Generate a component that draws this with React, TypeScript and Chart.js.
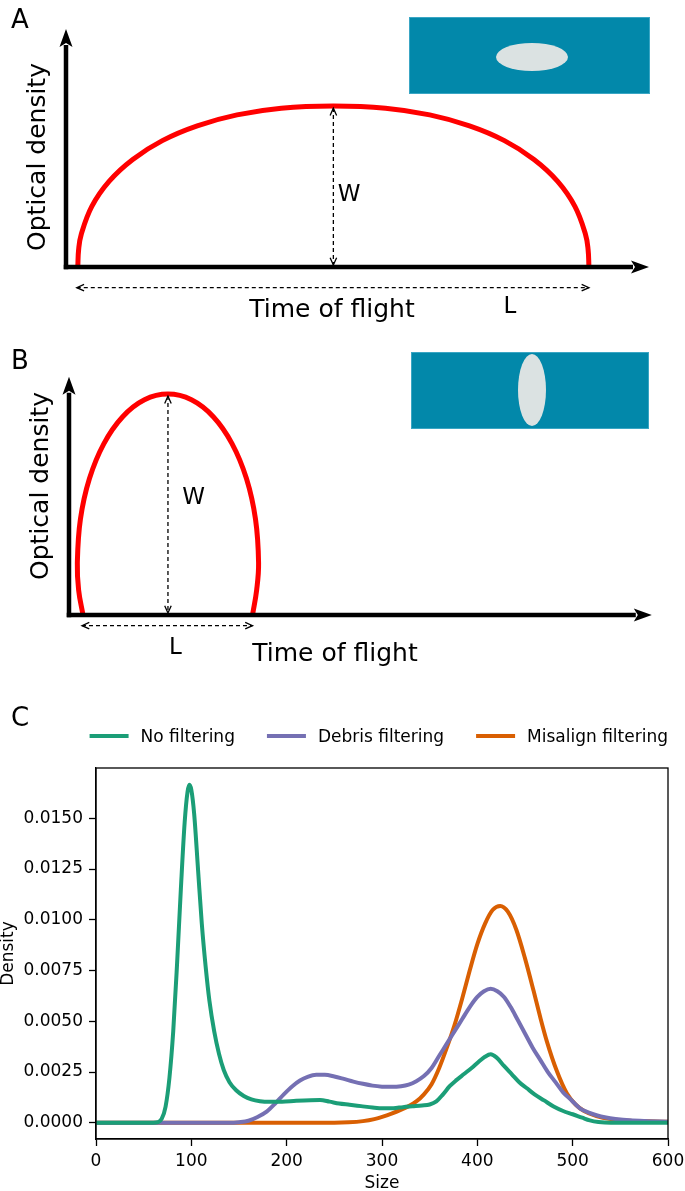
import React, { useEffect, useRef } from "react";
import { Chart, registerables } from "chart.js";

Chart.register(...registerables);

const FONT = "'DejaVu Sans', 'Liberation Sans', sans-serif";

// ---------- Panel A / B schematic data (time vs optical density, arbitrary units) ----------
const timeA = [2.02, 2.17, 2.62, 4.43, 7.39, 11.45, 16.52, 22.51, 29.33, 36.92, 45.86, 54.8, 62.39, 69.21, 75.2, 80.27, 84.33, 87.29, 89.1, 89.55, 89.7];
const odA = [0, 7.4, 13.8, 25.5, 36.0, 45.2, 53.1, 59.3, 63.9, 66.7, 67.6, 66.7, 63.9, 59.3, 53.1, 45.2, 36.0, 25.5, 13.8, 7.4, 0];

const timeB = [2.4, 1.65, 1.43, 1.96, 3.51, 5.99, 9.21, 12.95, 16.98, 21.01, 24.76, 27.97, 30.45, 32.0, 32.53, 32.2, 31.49];
const odB = [0, 10.5, 21.8, 40.2, 57.25, 71.93, 83.2, 90.3, 92.7, 90.3, 83.2, 71.93, 57.25, 40.2, 21.8, 10.5, 0];

// ---------- Panel C data ----------
const seriesLabels = ["No filtering", "Debris filtering", "Misalign filtering"];
const seriesColors = ["#1b9e77", "#7570b3", "#d95f02"];

const sizeNoFilter = [0, 60, 65, 69, 73, 77, 81, 85, 89, 93, 96, 98, 100, 103, 107, 111, 115, 119, 124, 129, 134, 140, 147, 155, 163, 172, 182, 195, 210, 225, 235, 245, 255, 266, 278, 290, 301, 312, 322, 332, 342, 350, 357, 364, 371, 378, 386, 394, 402, 408, 414, 420, 428, 436, 444, 452, 460, 470, 480, 490, 500, 510, 518, 527, 540, 600];
const densNoFilter = [0, 0, 0.00003, 0.0002, 0.0008, 0.0022, 0.0045, 0.0078, 0.0115, 0.0148, 0.0163, 0.01665, 0.0164, 0.0152, 0.0125, 0.0098, 0.0077, 0.006, 0.0045, 0.0034, 0.0026, 0.002, 0.0016, 0.00132, 0.00115, 0.00106, 0.00103, 0.00104, 0.00108, 0.00111, 0.00112, 0.00104, 0.00095, 0.00089, 0.00082, 0.00075, 0.00071, 0.00072, 0.00077, 0.00081, 0.00085, 0.0009, 0.00105, 0.0014, 0.0018, 0.0021, 0.0024, 0.0027, 0.00303, 0.00325, 0.00337, 0.00322, 0.0028, 0.0024, 0.002, 0.0017, 0.0014, 0.0011, 0.0008, 0.00058, 0.00042, 0.00025, 0.00012, 0.00004, 0, 0];

const sizeDebris = [0, 140, 150, 160, 170, 179, 188, 197, 206, 214, 222, 231, 240, 250, 260, 270, 280, 290, 300, 310, 320, 328, 336, 344, 352, 360, 368, 376, 384, 392, 400, 407, 414, 421, 428, 435, 442, 450, 458, 466, 474, 482, 490, 499, 508, 517, 525, 535, 545, 560, 580, 600];
const densDebris = [0, 0, 0.00003, 0.0001, 0.0003, 0.00055, 0.00095, 0.0014, 0.0018, 0.00208, 0.00226, 0.00236, 0.00236, 0.00228, 0.00216, 0.00203, 0.00192, 0.00183, 0.00178, 0.00177, 0.0018, 0.00188, 0.00205, 0.0023, 0.0027, 0.0033, 0.0039, 0.0045, 0.0051, 0.0057, 0.0062, 0.00648, 0.0066, 0.00648, 0.0062, 0.0057, 0.0051, 0.0044, 0.0037, 0.0031, 0.0025, 0.002, 0.0015, 0.0011, 0.0007, 0.0005, 0.00037, 0.00026, 0.00019, 0.00012, 0.00008, 0.00005];

const sizeMisalign = [0, 250, 265, 280, 292, 301, 310, 319, 328, 336, 344, 352, 360, 368, 376, 384, 392, 400, 408, 416, 424, 432, 441, 450, 459, 466, 473, 483, 494, 503, 512, 525, 540, 560, 580, 600];
const densMisalign = [0, 0, 0.00002, 0.00008, 0.00018, 0.0003, 0.00045, 0.00062, 0.00082, 0.00105, 0.0014, 0.0019, 0.0027, 0.0037, 0.0048, 0.0061, 0.0075, 0.0088, 0.0098, 0.01048, 0.01068, 0.0104, 0.0095, 0.0081, 0.0065, 0.0052, 0.004, 0.0026, 0.00144, 0.0009, 0.00058, 0.00033, 0.00018, 0.0001, 0.00007, 0.00005];

const xTickValues = [0, 100, 200, 300, 400, 500, 600];
const xTickLabels = ["0", "100", "200", "300", "400", "500", "600"];
const yTickValues = [0, 0.0025, 0.005, 0.0075, 0.01, 0.0125, 0.015];
const yTickLabels = ["0.0000", "0.0025", "0.0050", "0.0075", "0.0100", "0.0125", "0.0150"];

// ---------- helpers ----------
type TextItem = { text: string; x: number; y: number; size: number; rotate?: boolean };

function drawText(ctx: CanvasRenderingContext2D, t: TextItem) {
  ctx.save();
  ctx.font = `${t.size}px ${FONT}`;
  ctx.fillStyle = "#000";
  ctx.textAlign = "center";
  ctx.textBaseline = "alphabetic";
  const off = 0.3645 * t.size; // cap-centre to baseline
  if (t.rotate) {
    ctx.translate(t.x, t.y);
    ctx.rotate(-Math.PI / 2);
    ctx.fillText(t.text, 0, off);
  } else {
    ctx.fillText(t.text, t.x, t.y + off);
  }
  ctx.restore();
}

function dashedArrow(ctx: CanvasRenderingContext2D, x1: number, y1: number, x2: number, y2: number) {
  ctx.save();
  ctx.strokeStyle = "#000";
  ctx.lineWidth = 1.3;
  ctx.setLineDash([4, 3]);
  ctx.beginPath();
  ctx.moveTo(x1, y1);
  ctx.lineTo(x2, y2);
  ctx.stroke();
  ctx.setLineDash([]);
  const ang = Math.atan2(y2 - y1, x2 - x1);
  const head = 8;
  const spread = 0.42;
  const heads: [number, number, number][] = [
    [x2, y2, ang],
    [x1, y1, ang + Math.PI],
  ];
  for (const [hx, hy, a] of heads) {
    ctx.beginPath();
    ctx.moveTo(hx - head * Math.cos(a - spread), hy - head * Math.sin(a - spread));
    ctx.lineTo(hx, hy);
    ctx.lineTo(hx - head * Math.cos(a + spread), hy - head * Math.sin(a + spread));
    ctx.stroke();
  }
  ctx.restore();
}

const schematicPlugin = {
  id: "schematic",
  afterDatasetsDraw(chart: any, _args: any, opts: any) {
    const { ctx, chartArea: ca } = chart;
    const xs = chart.scales.x;
    const ys = chart.scales.y;
    const aw = 4.5;
    ctx.save();
    ctx.strokeStyle = "#000";
    ctx.fillStyle = "#000";
    ctx.lineWidth = aw;
    const hl = 18;
    const hw = 6.5;
    // y axis
    ctx.beginPath();
    ctx.moveTo(ca.left, ca.bottom + aw / 2);
    ctx.lineTo(ca.left, ca.top + hl - 2);
    ctx.stroke();
    ctx.beginPath();
    ctx.moveTo(ca.left, ca.top);
    ctx.lineTo(ca.left - hw, ca.top + hl);
    ctx.lineTo(ca.left, ca.top + hl - 4);
    ctx.lineTo(ca.left + hw, ca.top + hl);
    ctx.closePath();
    ctx.fill();
    // x axis
    ctx.beginPath();
    ctx.moveTo(ca.left - aw / 2, ca.bottom);
    ctx.lineTo(ca.right - hl + 2, ca.bottom);
    ctx.stroke();
    ctx.beginPath();
    ctx.moveTo(ca.right, ca.bottom);
    ctx.lineTo(ca.right - hl, ca.bottom - hw);
    ctx.lineTo(ca.right - hl + 4, ca.bottom);
    ctx.lineTo(ca.right - hl, ca.bottom + hw);
    ctx.closePath();
    ctx.fill();
    ctx.restore();

    // W and L arrows from the curve
    const data = chart.data.datasets[0].data as { x: number; y: number }[];
    let peak = data[0];
    for (const p of data) if (p.y > peak.y) peak = p;
    const px = xs.getPixelForValue(peak.x);
    dashedArrow(ctx, px, ys.getPixelForValue(peak.y) + 2, px, ys.getPixelForValue(0) - 2);
    const first = data[0];
    const last = data[data.length - 1];
    const ly = ca.bottom + opts.lOffset;
    dashedArrow(ctx, xs.getPixelForValue(first.x) - 1, ly, xs.getPixelForValue(last.x), ly);

    for (const t of opts.texts as TextItem[]) drawText(ctx, t);
  },
};

const framePlugin = {
  id: "frame",
  afterDraw(chart: any, _args: any, opts: any) {
    const { ctx, chartArea: ca } = chart;
    ctx.save();
    ctx.strokeStyle = "#000";
    ctx.lineWidth = 1.3;
    ctx.strokeRect(ca.left, ca.top, ca.right - ca.left, ca.bottom - ca.top);

    // legend (single row, right aligned to the plot frame)
    ctx.font = `${opts.fontSize}px ${FONT}`;
    const items = chart.data.datasets.map((ds: any) => ({
      label: ds.label as string,
      color: ds.borderColor as string,
      w: ctx.measureText(ds.label).width,
    }));
    const total =
      items.reduce((s: number, it: any) => s + opts.sample + opts.gap + it.w, 0) +
      opts.itemGap * (items.length - 1);
    let x = ca.right - total;
    for (const it of items) {
      ctx.strokeStyle = it.color;
      ctx.lineWidth = 4;
      ctx.beginPath();
      ctx.moveTo(x, opts.y);
      ctx.lineTo(x + opts.sample, opts.y);
      ctx.stroke();
      ctx.fillStyle = "#000";
      ctx.textAlign = "left";
      ctx.textBaseline = "alphabetic";
      ctx.fillText(it.label, x + opts.sample + opts.gap, opts.y + 0.3645 * opts.fontSize);
      x += opts.sample + opts.gap + it.w + opts.itemGap;
    }
    ctx.restore();
    for (const t of opts.texts as TextItem[]) drawText(ctx, t);
  },
};

function toXY(xs: number[], ys: number[]) {
  return xs.map((x, i) => ({ x, y: ys[i] }));
}

function schematicConfig(time: number[], od: number[], padding: any, lOffset: number, texts: TextItem[]): any {
  return {
    type: "scatter",
    data: {
      datasets: [
        {
          data: toXY(time, od),
          showLine: true,
          borderColor: "#ff0000",
          borderWidth: 5,
          pointRadius: 0,
          tension: 0.4,
          fill: false,
          clip: false,
        },
      ],
    },
    options: {
      animation: false,
      responsive: false,
      devicePixelRatio: 1,
      events: [],
      layout: { padding },
      plugins: { legend: { display: false }, tooltip: { enabled: false }, schematic: { lOffset, texts } },
      scales: {
        x: { type: "linear", min: 0, max: 100, display: false },
        y: { type: "linear", min: 0, max: 100, display: false },
      },
    },
    plugins: [schematicPlugin],
  };
}

function densityConfig(): any {
  const tickFont = { family: FONT, size: 17 };
  const sizes = [sizeNoFilter, sizeDebris, sizeMisalign];
  const dens = [densNoFilter, densDebris, densMisalign];
  return {
    type: "scatter",
    data: {
      datasets: seriesLabels.map((label, i) => ({
        label,
        data: toXY(sizes[i], dens[i]),
        showLine: true,
        borderColor: seriesColors[i],
        backgroundColor: seriesColors[i],
        borderWidth: 4,
        pointRadius: 0,
        tension: 0.4,
        cubicInterpolationMode: "monotone",
        fill: false,
      })),
    },
    options: {
      animation: false,
      responsive: false,
      devicePixelRatio: 1,
      events: [],
      layout: { padding: { top: 78, right: 17, left: 0, bottom: 0 } },
      plugins: {
        legend: { display: false },
        tooltip: { enabled: false },
        frame: {
          fontSize: 17,
          y: 46,
          sample: 39,
          gap: 12,
          itemGap: 32,
          texts: [{ text: "C", x: 20, y: 27, size: 26 }],
        },
      },
      scales: {
        x: {
          type: "linear",
          min: 0,
          max: 600,
          afterBuildTicks: (s: any) => {
            s.ticks = xTickValues.map((v) => ({ value: v }));
          },
          afterFit: (s: any) => {
            s.height = 52;
            s.paddingLeft = 0;
            s.paddingRight = 0;
          },
          grid: { drawOnChartArea: false, drawTicks: true, tickLength: 7, tickColor: "#000", tickWidth: 1.3 },
          border: { display: true, color: "#000", width: 1.3 },
          ticks: {
            color: "#000",
            font: tickFont,
            padding: 5,
            maxRotation: 0,
            autoSkip: false,
            callback: (_v: any, i: number) => xTickLabels[i],
          },
          title: { display: true, text: "Size", color: "#000", font: { family: FONT, size: 17, lineHeight: 1 }, padding: { top: 0, bottom: -1 } },
        },
        y: {
          type: "linear",
          min: -0.0008,
          max: 0.01748,
          afterBuildTicks: (s: any) => {
            s.ticks = yTickValues.map((v) => ({ value: v }));
          },
          afterFit: (s: any) => {
            s.width = 96;
            s.paddingTop = 0;
            s.paddingBottom = 0;
          },
          grid: { drawOnChartArea: false, drawTicks: true, tickLength: 7, tickColor: "#000", tickWidth: 1.3 },
          border: { display: true, color: "#000", width: 1.3 },
          ticks: {
            color: "#000",
            font: tickFont,
            padding: 6,
            autoSkip: false,
            callback: (_v: any, i: number) => yTickLabels[i],
          },
          title: { display: true, text: "Density", color: "#000", font: { family: FONT, size: 17, lineHeight: 1 }, padding: 0 },
        },
      },
    },
    plugins: [framePlugin],
  };
}

function ChartCanvas({ width, height, top, make }: { width: number; height: number; top: number; make: () => any }) {
  const ref = useRef<HTMLCanvasElement | null>(null);
  useEffect(() => {
    if (!ref.current) return;
    const chart = new Chart(ref.current, make());
    return () => chart.destroy();
  }, []);
  return (
    <canvas
      ref={ref}
      width={width}
      height={height}
      style={{ position: "absolute", left: 0, top, width, height, display: "block" }}
    />
  );
}

function Inset({ left, top, width, height, cx, cy, rx, ry }: any) {
  return (
    <div
      style={{
        position: "absolute",
        left,
        top,
        width,
        height,
        background: "#0288aa",
        boxSizing: "border-box",
        border: "1px solid #3aa6c4",
      }}
    >
      <div
        style={{
          position: "absolute",
          left: cx - left - rx,
          top: cy - top - ry,
          width: rx * 2,
          height: ry * 2,
          borderRadius: "50%",
          background: "#dbe2e2",
        }}
      />
    </div>
  );
}

export default function App() {
  const textsA: TextItem[] = [
    { text: "A", x: 20, y: 19, size: 26 },
    { text: "Optical density", x: 36, y: 157, size: 25, rotate: true },
    { text: "W", x: 349, y: 193, size: 23 },
    { text: "L", x: 510, y: 305, size: 23 },
    { text: "Time of flight", x: 332, y: 308, size: 25 },
  ];
  const textsB: TextItem[] = [
    { text: "B", x: 20, y: 30, size: 26 },
    { text: "Optical density", x: 39, y: 156, size: 25, rotate: true },
    { text: "W", x: 193.5, y: 166, size: 23 },
    { text: "L", x: 175.5, y: 316, size: 23 },
    { text: "Time of flight", x: 335, y: 322, size: 25 },
  ];
  return (
    <div style={{ position: "absolute", left: 0, top: 0, width: 685, height: 1191, background: "#fff", overflow: "hidden" }}>
      <ChartCanvas
        width={685}
        height={330}
        top={0}
        make={() => schematicConfig(timeA, odA, { left: 66, top: 29, right: 36, bottom: 63 }, 20.7, textsA)}
      />
      <ChartCanvas
        width={685}
        height={340}
        top={330}
        make={() => schematicConfig(timeB, odB, { left: 69, top: 46.7, right: 33.2, bottom: 55 }, 10.7, textsB)}
      />
      <ChartCanvas width={685} height={501} top={690} make={densityConfig} />
      <Inset left={409} top={17} width={241} height={77} cx={531} cy={56} rx={36} ry={14} />
      <Inset left={411} top={352} width={238} height={77} cx={531} cy={388.5} rx={14} ry={36} />
    </div>
  );
}
